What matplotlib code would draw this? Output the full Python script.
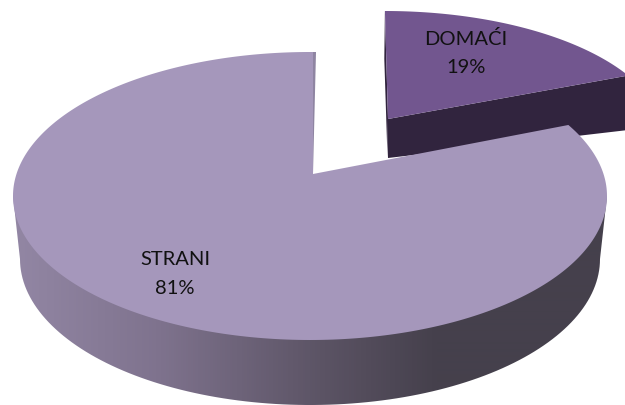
import numpy as np
import matplotlib
matplotlib.use("Agg")
import matplotlib.pyplot as plt
from matplotlib.colors import LinearSegmentedColormap
from matplotlib.patches import Polygon

categories = ["DOMAĆI", "STRANI"]
shares = [19, 81]


def rim(t_deg, apex, center, rx, ry):
    # point where a ray from the (off centre) apex meets the ellipse, for a clockwise angle from 12 o'clock
    t = np.radians(t_deg)
    dx, dy = rx * np.sin(t), -ry * np.cos(t)
    ox, oy = (apex[0] - center[0]) / rx, (apex[1] - center[1]) / ry
    ux, uy = dx / rx, dy / ry
    a = ux**2 + uy**2
    b = ox * ux + oy * uy
    c = ox**2 + oy**2 - 1
    s = (-b + np.sqrt(b**2 - a * c)) / a
    return np.column_stack([apex[0] + s * dx, apex[1] + s * dy])


fig = plt.figure(figsize=(6.25, 4.06), dpi=100)
ax = fig.add_axes([0, 0, 1, 1])

split = 360 * shares[0] / sum(shares)

# exploded slice, sits further back
d_apex = (388, 120)
d_center = (385, 140)
d_rx, d_ry = 280, 128
d_arc = rim(np.linspace(-0.75, split, 80), d_apex, d_center, d_rx, d_ry)

wall = [d_apex, d_arc[-1], (d_arc[-1][0], 131), (388, 159)]
ax.add_patch(Polygon(wall, fc="#31243e", ec="none"))
ax.add_patch(Polygon([d_arc[0], (384.3, 60), (387.5, 159), d_apex], fc="#31243e", ec="none"))
ax.add_patch(Polygon(np.vstack([[d_apex], d_arc]), fc="#72568f", ec="none"))

# big slice
m_apex = (313, 175)
m_center = (310, 197)
m_rx, m_ry = 297, 144
b_center = (310, 260)
b_rx, b_ry = 290, 146

u = np.radians(np.linspace(-90, 90, 120))
lower = np.column_stack([b_center[0] + b_rx * np.sin(u), b_center[1] + b_ry * np.cos(u)])
side_shape = np.vstack([[(m_center[0] - m_rx, m_center[1])], lower, [(m_center[0] + m_rx, m_center[1])]])
side_patch = Polygon(side_shape, fc="none", ec="none", transform=ax.transData)
ax.add_patch(side_patch)

shade = LinearSegmentedColormap.from_list(
    "side",
    [(0.0, "#9488a6"), (0.25, "#7f738e"), (0.52, "#5b5364"), (0.70, "#45404c"), (1.0, "#45414c")],
)
grad = ax.imshow(
    np.linspace(0, 1, 625).reshape(1, -1),
    extent=(0, 625, 406, 0),
    cmap=shade,
    aspect="auto",
    interpolation="bilinear",
)
grad.set_clip_path(side_patch)

m_arc = rim(np.linspace(split, 360, 300), m_apex, m_center, m_rx, m_ry)
ax.add_patch(Polygon([m_apex, m_arc[-1], (m_arc[-1][0] + 3, m_arc[-1][1])], fc="#8f85a2", ec="none"))
ax.add_patch(Polygon(np.vstack([[m_apex], m_arc]), fc="#a597bb", ec="none"))

label_pos = [(466, 53), (175, 274)]
for cat, val, (x, y) in zip(categories, shares, label_pos):
    ax.text(x, y, f"{cat}\n{val}%", ha="center", va="center", multialignment="center",
            fontsize=14.5, family="Lato", color="#111111", linespacing=1.8)

ax.set_xlim(0, 625)
ax.set_ylim(406, 0)
ax.axis("off")

fig.savefig("out.png", dpi=100, facecolor="white")
